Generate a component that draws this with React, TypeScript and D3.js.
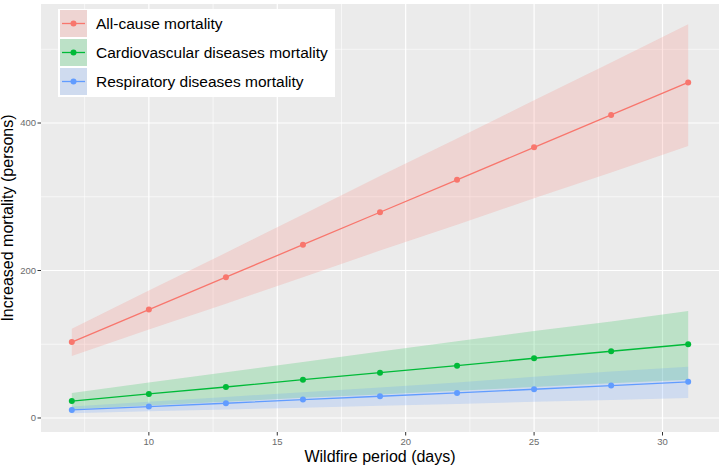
import React from "react";
import * as d3 from "d3";

const days = [7, 10, 13, 16, 19, 22, 25, 28, 31];
const allCause = [103, 147, 191, 235, 279, 323, 367, 411, 455];
const allCauseLow = [84, 120, 155, 191, 227, 262, 298, 333, 369];
const allCauseHigh = [121, 173, 224, 276, 328, 379, 431, 482, 534];
const cardio = [23, 32.6, 42, 52, 61.5, 71, 81, 90.5, 100];
const cardioLow = [12, 17, 22, 27.5, 32, 37, 42, 47, 52];
const cardioHigh = [34, 48, 62, 76, 90, 104, 118, 131, 145];
const resp = [11, 15.5, 20, 25, 29.5, 34, 39, 44, 49];
const respLow = [6.5, 9, 11.5, 14, 16.5, 19, 22, 24.5, 27];
const respHigh = [15.5, 22, 28.5, 35, 41.5, 48, 56, 63, 69.5];
const seriesNames = ["All-cause mortality", "Cardiovascular diseases mortality", "Respiratory diseases mortality"];
const seriesColors = ["#F8766D", "#00BA38", "#619CFF"];
const xMajor = [10, 15, 20, 25, 30];
const xMinor = [7.5, 12.5, 17.5, 22.5, 27.5];
const yMajor = [0, 200, 400];
const yMinor = [100, 300, 500];

const W = 720, H = 468;
const L = 41, R = 719, T = 4, B = 432;

export default function App() {
  const x = d3.scaleLinear().domain([5.8, 32.2]).range([L, R]);
  const y = d3.scaleLinear().domain([-19, 561.4]).range([B, T]);
  const series = [
    { mid: allCause, lo: allCauseLow, hi: allCauseHigh },
    { mid: cardio, lo: cardioLow, hi: cardioHigh },
    { mid: resp, lo: respLow, hi: respHigh },
  ];
  const area = d3.area<number>()
    .x((_, i) => x(days[i]));
  const line = d3.line<number>().x((_, i) => x(days[i])).y((d) => y(d));
  const font = "'Liberation Sans', Arial, Helvetica, sans-serif";
  return (
    <svg width={W} height={H} style={{ position: "absolute", left: 0, top: 0, background: "#fff" }} fontFamily={font}>
      <rect x={L} y={T} width={R - L} height={B - T} fill="#EBEBEB" />
      {xMinor.map((v) => (
        <line key={"xm" + v} x1={x(v)} x2={x(v)} y1={T} y2={B} stroke="#fff" strokeWidth={0.6} />
      ))}
      {yMinor.map((v) => (
        <line key={"ym" + v} x1={L} x2={R} y1={y(v)} y2={y(v)} stroke="#fff" strokeWidth={0.6} />
      ))}
      {xMajor.map((v) => (
        <line key={"xM" + v} x1={x(v)} x2={x(v)} y1={T} y2={B} stroke="#fff" strokeWidth={1.2} />
      ))}
      {yMajor.map((v) => (
        <line key={"yM" + v} x1={L} x2={R} y1={y(v)} y2={y(v)} stroke="#fff" strokeWidth={1.2} />
      ))}
      {series.map((s, k) => (
        <path key={"a" + k}
          d={area.y0((_, i) => y(s.lo[i])).y1((_, i) => y(s.hi[i]))(s.mid) || ""}
          fill={seriesColors[k]} fillOpacity={0.2} />
      ))}
      {series.map((s, k) => (
        <g key={"l" + k}>
          <path d={line(s.mid) || ""} fill="none" stroke={seriesColors[k]} strokeWidth={1.3} />
          {s.mid.map((v, i) => (
            <circle key={i} cx={x(days[i])} cy={y(v)} r={3} fill={seriesColors[k]} />
          ))}
        </g>
      ))}
      {/* axes */}
      {yMajor.map((v) => (
        <g key={"yt" + v}>
          <line x1={L - 3.5} x2={L} y1={y(v)} y2={y(v)} stroke="#333" strokeWidth={1} />
          <text x={L - 5} y={y(v)} dy="0.35em" textAnchor="end" fontSize={9.5} fill="#6b6b6b">{v}</text>
        </g>
      ))}
      {xMajor.map((v) => (
        <g key={"xt" + v}>
          <line x1={x(v)} x2={x(v)} y1={B} y2={B + 3.5} stroke="#333" strokeWidth={1} />
          <text x={x(v)} y={B + 13} textAnchor="middle" fontSize={9.5} fill="#6b6b6b">{v}</text>
        </g>
      ))}
      <text x={(L + R) / 2} y={462} textAnchor="middle" fontSize={16} fill="#000">Wildfire period (days)</text>
      <text transform={`translate(13,${(T + B) / 2}) rotate(-90)`} textAnchor="middle" fontSize={16} fill="#000">Increased mortality (persons)</text>
      {/* legend */}
      <rect x={58} y={9} width={277} height={88} fill="#fff" />
      {seriesNames.map((n, k) => {
        const ky = 10 + k * 29;
        return (
          <g key={"lg" + k}>
            <rect x={60} y={ky} width={27} height={27} fill="#EBEBEB" />
            <rect x={60} y={ky} width={27} height={27} fill={seriesColors[k]} fillOpacity={0.2} />
            <line x1={62} x2={85} y1={ky + 13.5} y2={ky + 13.5} stroke={seriesColors[k]} strokeWidth={1.3} />
            <circle cx={73.5} cy={ky + 13.5} r={3} fill={seriesColors[k]} />
            <text x={96} y={ky + 13.5} dy="0.35em" fontSize={15.5} fill="#000">{n}</text>
          </g>
        );
      })}
    </svg>
  );
}
